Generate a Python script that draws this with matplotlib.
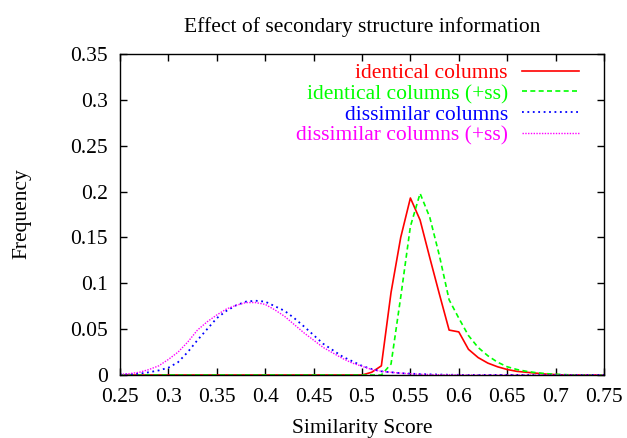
import numpy as np
import matplotlib
matplotlib.use("Agg")
import matplotlib.pyplot as plt

plt.rcParams["font.family"] = ["Liberation Serif", "DejaVu Serif"]
FS = 15.5

# similarity score bins, 0.25 .. 0.75 in steps of 0.01
score = np.round(np.arange(0.25, 0.7501, 0.01), 2)

# 0.25 .. 0.50 are all zero, then 0.51 .. 0.70, then 0.71 .. 0.75
identical = [0] * 26 + [0.003, 0.01, 0.09, 0.15, 0.193,
                        0.169, 0.128, 0.088, 0.049, 0.047,
                        0.028, 0.019, 0.013, 0.009, 0.006,
                        0.004, 0.003, 0.002, 0.001, 0.0005] + [0] * 5

# 0.25 .. 0.52 zero, then 0.53 .. 0.71, then 0.72 .. 0.75
identical_ss = [0] * 28 + [0.012, 0.085, 0.162, 0.198, 0.172,
                           0.13, 0.082, 0.062, 0.043, 0.03,
                           0.021, 0.014, 0.009, 0.006, 0.004,
                           0.0025, 0.0015, 0.0008, 0.0004] + [0] * 4

# 0.25 .. 0.60, then zero to 0.75
dissimilar = [0.0005, 0.0008, 0.0015, 0.003, 0.005, 0.008, 0.014, 0.025, 0.038, 0.05,
              0.062, 0.07, 0.076, 0.08, 0.081, 0.08, 0.075, 0.07, 0.062, 0.053,
              0.0435, 0.034, 0.027, 0.02, 0.015, 0.01, 0.0065, 0.004, 0.003, 0.002,
              0.0015, 0.001, 0.0007, 0.0005, 0.0003, 0.0002] + [0] * 15

dissimilar_ss = [0.0008, 0.0015, 0.003, 0.006, 0.01, 0.017, 0.025, 0.036, 0.049, 0.058,
                 0.0655, 0.072, 0.076, 0.079, 0.079, 0.077, 0.071, 0.064, 0.055, 0.046,
                 0.038, 0.03, 0.024, 0.018, 0.013, 0.0095, 0.006, 0.004, 0.003, 0.002,
                 0.0013, 0.0008, 0.0005, 0.0003, 0.0002, 0.0001] + [0] * 15

xticks = [0.25, 0.3, 0.35, 0.4, 0.45, 0.5, 0.55, 0.6, 0.65, 0.7, 0.75]
yticks = [0, 0.05, 0.1, 0.15, 0.2, 0.25, 0.3, 0.35]

fig = plt.figure(figsize=(6.27, 4.38), dpi=100)
ax = fig.add_axes([0.1914, 0.1438, 0.7719, 0.7329])

ax.plot(score, identical, color="#ff0000", lw=1.2, label="identical columns")
ax.plot(score, identical_ss, color="#00ff00", lw=1.2, dashes=(3, 2),
        label="identical columns (+ss)")
ax.plot(score, dissimilar, color="#0000ff", lw=1.3, dashes=(1, 2),
        label="dissimilar columns")
ax.plot(score, dissimilar_ss, color="#ff00ff", lw=1.0, dashes=(1, 1),
        label="dissimilar columns (+ss)")

ax.set_xlim(0.25, 0.75)
ax.set_ylim(0, 0.35)
ax.set_xticks(xticks)
ax.set_xticklabels([f"{t:g}" for t in xticks])
ax.set_yticks(yticks)
ax.set_yticklabels([f"{t:g}" for t in yticks])
ax.tick_params(direction="in", length=5, width=1, top=True, right=True,
               labelsize=FS)
ax.tick_params(axis="y", pad=9)
ax.tick_params(axis="x", pad=9.5)
for s in ax.spines.values():
    s.set_linewidth(1)

fig.text(22 / 627, 1 - 214 / 438, "Frequency", rotation=90,
         ha="center", va="center", fontsize=FS)
fig.text(362 / 627, 1 - 429 / 438, "Similarity Score",
         ha="center", va="center", fontsize=FS)
fig.text(362 / 627, 1 - 27 / 438, "Effect of secondary structure information",
         ha="center", va="center", fontsize=FS)

leg = ax.legend(loc="upper right", bbox_to_anchor=(0.948, 0.972), frameon=False,
                markerfirst=False, labelcolor="linecolor", handlelength=2.65,
                handletextpad=0.65, labelspacing=0.04, borderpad=0,
                borderaxespad=0, fontsize=FS)

fig.savefig("out.png", dpi=100)
